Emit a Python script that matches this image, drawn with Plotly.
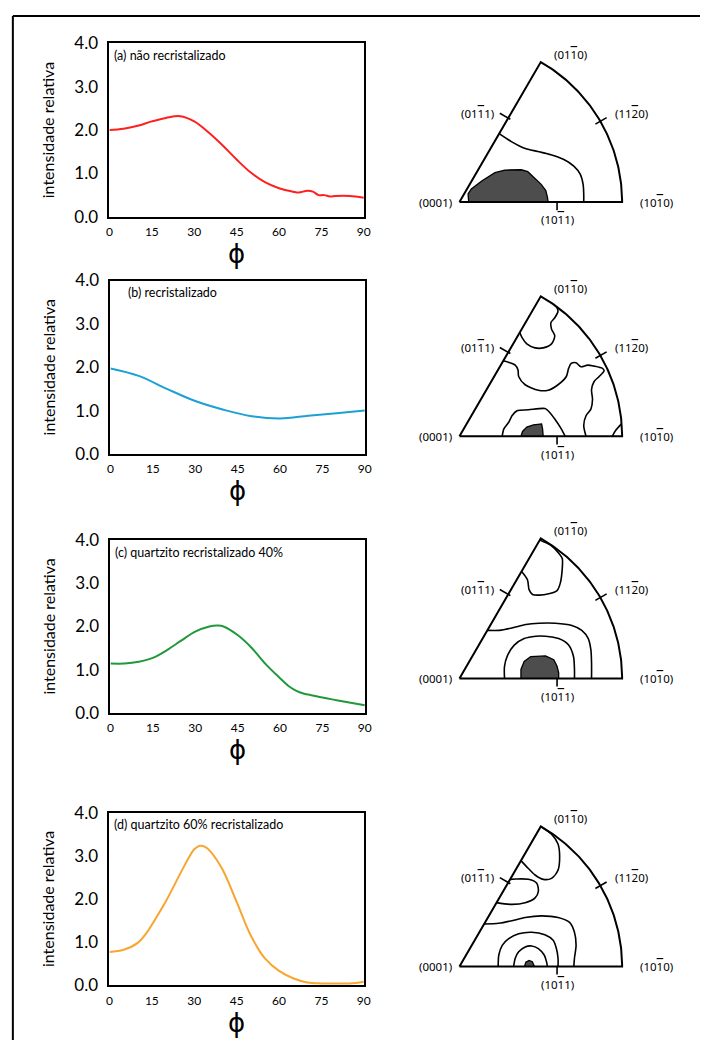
import numpy as np
import plotly.graph_objects as go

W, H = 707, 1050

# ---------------- line-chart data (phi in degrees, relative intensity) ----------------
phi_a = [0, 5, 10, 15, 20, 25, 30, 35, 40, 45, 50, 55, 60, 65, 67, 70, 72, 74, 76, 78, 80, 85, 90]
int_a = [2.0, 2.03, 2.1, 2.2, 2.28, 2.32, 2.2, 1.95, 1.65, 1.32, 1.02, 0.8, 0.66, 0.58, 0.56, 0.6, 0.58, 0.5, 0.5, 0.47, 0.48, 0.48, 0.44]

phi_b = [0, 10, 20, 30, 40, 50, 60, 70, 80, 90]
int_b = [1.97, 1.8, 1.5, 1.22, 1.02, 0.87, 0.82, 0.88, 0.94, 1.0]

phi_c = [0, 5, 10, 15, 20, 25, 30, 35, 38, 40, 45, 50, 55, 60, 63, 66, 68, 70, 75, 80, 85, 90]
int_c = [1.14, 1.14, 1.18, 1.27, 1.45, 1.67, 1.88, 2.0, 2.02, 2.0, 1.8, 1.5, 1.12, 0.8, 0.62, 0.5, 0.45, 0.42, 0.35, 0.29, 0.23, 0.17]

phi_d = [0, 5, 10, 13, 15, 20, 25, 28, 30, 32, 34, 36, 40, 45, 50, 55, 60, 65, 70, 75, 80, 85, 90]
int_d = [0.77, 0.82, 0.98, 1.2, 1.4, 1.95, 2.58, 2.95, 3.15, 3.23, 3.2, 3.08, 2.68, 1.93, 1.15, 0.62, 0.33, 0.16, 0.06, 0.04, 0.04, 0.04, 0.08]

panel_titles = ["(a) não recristalizado", "(b) recristalizado",
                "(c) quartzito recristalizado 40%", "(d) quartzito 60% recristalizado"]
line_colors = ["#ff1f1f", "#1ba1d3", "#21983c", "#f8a531"]

x_ticks = [0, 15, 30, 45, 60, 75, 90]
y_ticks = [0, 1, 2, 3, 4]

# ---------------- inverse pole figure contours (unit sector, radius 1) ----------------
# panel a
ta_fill_u = [0.057, 0.053, 0.073, 0.137, 0.218, 0.279, 0.380, 0.420, 0.501, 0.531, 0.541, 0.545]
ta_fill_v = [0.0, 0.051, 0.081, 0.131, 0.182, 0.198, 0.200, 0.188, 0.111, 0.071, 0.030, 0.0]
ta_c1_u = [0.244, 0.319, 0.400, 0.481, 0.562, 0.642, 0.703, 0.743, 0.760, 0.764, 0.764]
ta_c1_v = [0.423, 0.374, 0.333, 0.313, 0.293, 0.263, 0.222, 0.172, 0.111, 0.051, 0.0]

# panel b
tb_fill_u = [0.378, 0.388, 0.414, 0.455, 0.505, 0.511, 0.515]
tb_fill_v = [0.0, 0.030, 0.057, 0.071, 0.077, 0.046, 0.0]
tb_c1_u = [0.263, 0.273, 0.303, 0.323, 0.354, 0.424, 0.525, 0.545, 0.586, 0.626, 0.650]
tb_c1_v = [0.0, 0.046, 0.087, 0.127, 0.158, 0.164, 0.172, 0.158, 0.107, 0.046, 0.0]
tb_c2_u = [0.270, 0.343, 0.360, 0.364, 0.404, 0.485, 0.545, 0.606, 0.657, 0.671, 0.687, 0.717,
           0.747, 0.788, 0.828, 0.879, 0.889, 0.859, 0.828, 0.812, 0.818, 0.808, 0.778, 0.764, 0.778]
tb_c2_v = [0.467, 0.440, 0.410, 0.370, 0.319, 0.285, 0.285, 0.319, 0.370, 0.420, 0.451, 0.455,
           0.430, 0.440, 0.434, 0.420, 0.406, 0.370, 0.339, 0.289, 0.228, 0.168, 0.127, 0.067, 0.0]
tb_c3_u = [0.596, 0.606, 0.586, 0.562, 0.566, 0.586, 0.566, 0.515, 0.465, 0.414, 0.384, 0.371]
tb_c3_v = [0.803, 0.774, 0.733, 0.703, 0.663, 0.622, 0.572, 0.547, 0.547, 0.572, 0.612, 0.642]
tb_c4_u = [0.939, 0.960, 0.996]
tb_c4_v = [0.0, 0.036, 0.077]

# panel c
tc_fill_u = [0.378, 0.378, 0.398, 0.438, 0.529, 0.580, 0.600, 0.610, 0.610]
tc_fill_v = [0.0, 0.055, 0.105, 0.135, 0.139, 0.115, 0.075, 0.034, 0.0]
tc_c1_u = [0.277, 0.277, 0.297, 0.337, 0.398, 0.469, 0.529, 0.610, 0.671, 0.701, 0.707, 0.707]
tc_c1_v = [0.0, 0.075, 0.145, 0.206, 0.246, 0.261, 0.261, 0.246, 0.206, 0.135, 0.055, 0.0]
tc_c2_u = [0.172, 0.246, 0.327, 0.408, 0.489, 0.590, 0.691, 0.752, 0.792, 0.808, 0.812, 0.812]
tc_c2_v = [0.297, 0.297, 0.313, 0.333, 0.341, 0.341, 0.327, 0.297, 0.246, 0.176, 0.095, 0.0]
tc_c3_u = [0.382, 0.418, 0.428, 0.449, 0.489, 0.549, 0.600, 0.620, 0.632, 0.632, 0.612, 0.562, 0.494]
tc_c3_v = [0.661, 0.610, 0.549, 0.519, 0.515, 0.523, 0.543, 0.589, 0.680, 0.741, 0.772, 0.822, 0.855]

# panel d
td_fill_u = [0.400, 0.408, 0.428, 0.448, 0.461]
td_fill_v = [0.0, 0.026, 0.038, 0.030, 0.0]
td_c1_u = [0.333, 0.343, 0.364, 0.404, 0.444, 0.485, 0.521, 0.535, 0.541]
td_c1_v = [0.0, 0.051, 0.091, 0.121, 0.127, 0.111, 0.071, 0.030, 0.0]
td_c2_u = [0.238, 0.242, 0.263, 0.303, 0.364, 0.444, 0.525, 0.576, 0.596, 0.606, 0.606]
td_c2_v = [0.0, 0.071, 0.131, 0.172, 0.202, 0.212, 0.196, 0.162, 0.111, 0.051, 0.0]
td_c3_u = [0.152, 0.242, 0.323, 0.404, 0.505, 0.606, 0.677, 0.707, 0.717, 0.707, 0.703]
td_c3_v = [0.263, 0.267, 0.283, 0.303, 0.313, 0.303, 0.273, 0.212, 0.131, 0.051, 0.0]
td_c4_u = [0.311, 0.345, 0.424, 0.475, 0.485, 0.465, 0.404, 0.323, 0.228]
td_c4_v = [0.539, 0.541, 0.539, 0.515, 0.465, 0.424, 0.394, 0.384, 0.395]
td_c5_u = [0.500, 0.566, 0.606, 0.616, 0.606, 0.566, 0.515, 0.465, 0.424, 0.378]
td_c5_v = [0.866, 0.818, 0.758, 0.677, 0.596, 0.545, 0.539, 0.566, 0.606, 0.655]

tri_fills = [(ta_fill_u, ta_fill_v), (tb_fill_u, tb_fill_v), (tc_fill_u, tc_fill_v), (td_fill_u, td_fill_v)]
tri_contours = [
    [(ta_c1_u, ta_c1_v)],
    [(tb_c1_u, tb_c1_v), (tb_c2_u, tb_c2_v), (tb_c3_u, tb_c3_v), (tb_c4_u, tb_c4_v)],
    [(tc_c1_u, tc_c1_v), (tc_c2_u, tc_c2_v), (tc_c3_u, tc_c3_v)],
    [(td_c1_u, td_c1_v), (td_c2_u, td_c2_v), (td_c3_u, td_c3_v), (td_c4_u, td_c4_v), (td_c5_u, td_c5_v)],
]


def bar(ch):
    return "<span style='text-decoration:overline'>" + ch + "</span>"


pole_labels = ["(0001)", "(10" + bar("1") + "0)", "(10" + bar("1") + "1)",
               "(01" + bar("1") + "1)", "(11" + bar("2") + "0)", "(01" + bar("1") + "0)"]

# ---------------- layout geometry (pixels) ----------------
line_boxes = [(108, 366, 33, 210), (109, 367, 275, 452), (109, 367, 540, 716), (108, 366, 818, 994)]
tri_origin_x = 463
tri_bottoms = [195, 434, 681, 975]
R = 165.0
tri_px_x = (420, 700)

FONT = "Lato"
LABEL_FONT = "Noto Sans"
fig = go.Figure()
layout = dict(width=W, height=H, margin=dict(l=0, r=0, t=0, b=0),
              paper_bgcolor="white", plot_bgcolor="white", showlegend=False,
              font=dict(family=FONT, color="black"))
annotations = []

phis = [phi_a, phi_b, phi_c, phi_d]
ints = [int_a, int_b, int_c, int_d]

for i in range(4):
    n = i + 1
    xa = "x" if n == 1 else f"x{n}"
    ya = "y" if n == 1 else f"y{n}"
    fig.add_trace(go.Scatter(x=phis[i], y=ints[i], mode="lines", xaxis=xa, yaxis=ya,
                             line=dict(color=line_colors[i], width=2, shape="spline", smoothing=1.0),
                             hoverinfo="skip"))
    l, r, t, b = line_boxes[i]
    layout[f"xaxis{'' if n == 1 else n}"] = dict(
        domain=[l / W, r / W], range=[0, 90], anchor=ya, showline=True, mirror=True,
        linecolor="black", linewidth=2, showgrid=False, zeroline=False, ticks="",
        tickvals=x_ticks, tickfont=dict(size=12, family=FONT), ticklabelstandoff=3,
        title=dict(text="\u03d5", font=dict(size=26, family="DejaVu Sans"), standoff=0))
    layout[f"yaxis{'' if n == 1 else n}"] = dict(
        domain=[1 - b / H, 1 - t / H], range=[0, 4], anchor=xa, showline=True, mirror=True,
        linecolor="black", linewidth=2, showgrid=False, zeroline=False, ticks="",
        tickvals=y_ticks, tickformat=".1f", tickfont=dict(size=17, family=FONT), ticklabelstandoff=6,
        title=dict(text="intensidade relativa", font=dict(size=16, family=FONT), standoff=16))
    annotations.append(dict(text=panel_titles[i], xref=f"{xa} domain", yref=f"{ya} domain",
                            x=0.01 if i != 1 else 0.06, y=0.93, xanchor="left", yanchor="middle",
                            showarrow=False, font=dict(size=12.5, family=FONT)))

# triangles (inverse pole figures)
theta = np.linspace(0, np.pi / 3, 80)
for i in range(4):
    n = i + 5
    xa, ya = f"x{n}", f"y{n}"
    bottom = tri_bottoms[i]
    u0 = (tri_px_x[0] - tri_origin_x) / R
    u1 = (tri_px_x[1] - tri_origin_x) / R
    ytop_px, ybot_px = bottom - 185, bottom + 30
    v0 = -(ybot_px - bottom) / R
    v1 = (bottom - ytop_px) / R
    layout[f"xaxis{n}"] = dict(domain=[tri_px_x[0] / W, tri_px_x[1] / W], range=[u0, u1], anchor=ya,
                               visible=False, fixedrange=True)
    layout[f"yaxis{n}"] = dict(domain=[1 - ybot_px / H, 1 - ytop_px / H], range=[v0, v1], anchor=xa,
                               visible=False, fixedrange=True)
    fu, fv = tri_fills[i]
    fig.add_trace(go.Scatter(x=fu, y=fv, mode="lines", fill="toself", fillcolor="#4d4d4d",
                             line=dict(color="black", width=1.3), xaxis=xa, yaxis=ya, hoverinfo="skip"))
    for cu, cv in tri_contours[i]:
        fig.add_trace(go.Scatter(x=cu, y=cv, mode="lines",
                                 line=dict(color="black", width=1.6, shape="spline", smoothing=0.8),
                                 xaxis=xa, yaxis=ya, hoverinfo="skip"))
    ox = [0.0] + list(np.cos(theta)) + [0.0]
    oy = [0.0] + list(np.sin(theta)) + [0.0]
    fig.add_trace(go.Scatter(x=ox, y=oy, mode="lines", line=dict(color="black", width=2),
                             xaxis=xa, yaxis=ya, hoverinfo="skip"))
    tx, ty = [], []
    px_, py_ = 0.6 * 0.5, 0.6 * np.sqrt(3) / 2
    tx += [px_ + 0.866 * 0.015, px_ - 0.866 * 0.06, None]
    ty += [py_ - 0.5 * 0.015, py_ + 0.5 * 0.06, None]
    c30, s30 = np.cos(np.pi / 6), np.sin(np.pi / 6)
    tx += [0.965 * c30, 1.045 * c30, None]
    ty += [0.965 * s30, 1.045 * s30, None]
    tx += [0.6, 0.6]
    ty += [0.0, -0.05]
    fig.add_trace(go.Scatter(x=tx, y=ty, mode="lines", line=dict(color="black", width=1.6),
                             xaxis=xa, yaxis=ya, hoverinfo="skip", connectgaps=False))
    lab_pos = [(-0.035, 0.0, "right"), (1.10, 0.0, "left"), (0.6, -0.11, "center"),
               (0.225, 0.55, "right"), (0.945, 0.55, "left"), (0.685, 0.915, "center")]
    for (lx, ly, anc), txt in zip(lab_pos, pole_labels):
        annotations.append(dict(text=txt, x=lx, y=ly, xref=xa, yref=ya, xanchor=anc, yanchor="middle",
                                showarrow=False, font=dict(size=11.5, family=LABEL_FONT)))

layout["annotations"] = annotations
layout["shapes"] = [
    dict(type="line", xref="paper", yref="paper", x0=10 / W, x1=1.0, y0=1 - 5 / H, y1=1 - 5 / H,
         line=dict(color="black", width=2)),
    dict(type="line", xref="paper", yref="paper", x0=10 / W, x1=10 / W, y0=1 - 5 / H, y1=0,
         line=dict(color="black", width=2)),
]
fig.update_layout(**layout)
fig.write_html("out.html", config={"displayModeBar": False},
               post_script="document.body.style.margin='0';document.body.style.padding='0';"
                           "document.documentElement.style.overflow='hidden';")
